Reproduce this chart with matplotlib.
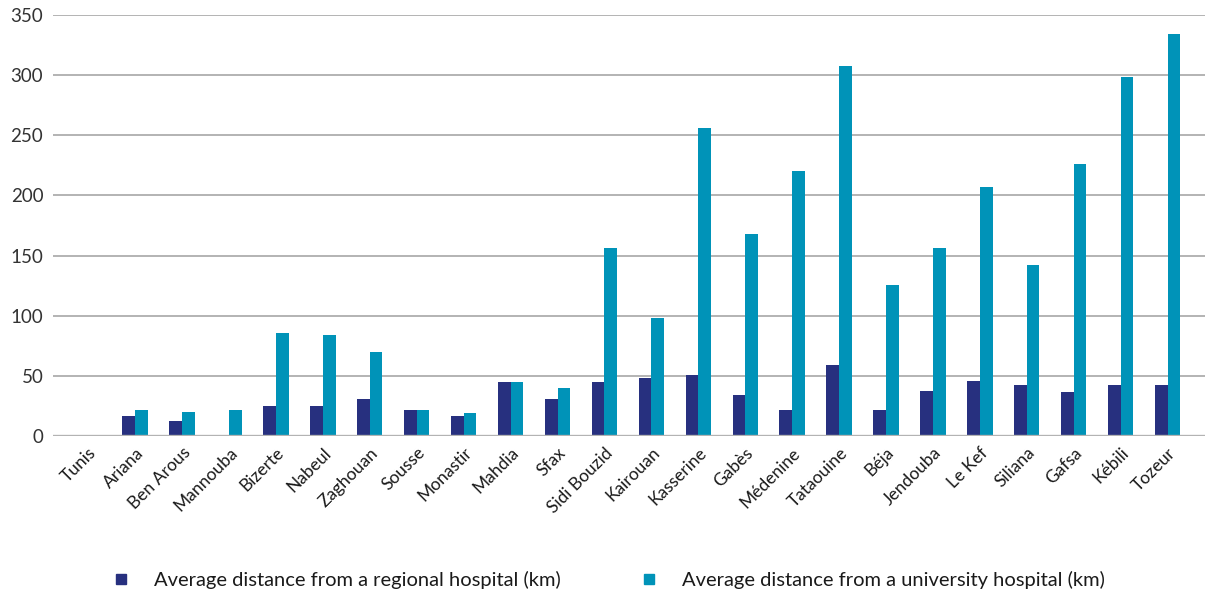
import matplotlib.pyplot as plt
import numpy as np
from matplotlib.lines import Line2D

plt.rcParams['font.family'] = ['Lato', 'DejaVu Sans']

regions = ['Tunis', 'Ariana', 'Ben Arous', 'Mannouba', 'Bizerte', 'Nabeul',
           'Zaghouan', 'Sousse', 'Monastir', 'Mahdia', 'Sfax', 'Sidi Bouzid',
           'Kairouan', 'Kasserine', 'Gabès', 'Médenine', 'Tataouine', 'Béja',
           'Jendouba', 'Le Kef', 'Siliana', 'Gafsa', 'Kébili', 'Tozeur']
regional = [0, 16.5, 13, 0, 25, 25, 31, 22, 16.5, 45, 31, 45,
            48, 51, 34, 22, 59, 22, 38, 46, 43, 37, 43, 43]
university = [0, 22, 20, 22, 86, 84, 70, 22, 19, 45, 40, 156,
              98, 256, 168, 220, 307, 126, 156, 207, 142, 226, 298, 334]
labels = ['Average distance from a regional hospital (km)',
          'Average distance from a university hospital (km)']
colors = ['#27307F', '#0093B8']
yticks = [0, 50, 100, 150, 200, 250, 300, 350]

fig = plt.figure(figsize=(12.1, 5.95), dpi=100)
ax = fig.add_axes([0.0438, 0.2667, 0.9522, 0.7086])

x = np.arange(len(regions))
w = 0.27
ax.bar(x - w / 2, regional, w, color=colors[0], zorder=3)
ax.bar(x + w / 2, university, w, color=colors[1], zorder=3)

ax.set_xlim(-0.75, 23.8)
ax.set_ylim(0, 350)
ax.set_yticks(yticks)
ax.yaxis.grid(True, color='#B3B3B3', linewidth=1.4, zorder=0)
ax.axhline(0, color='#B3B3B3', linewidth=2.4, zorder=4)
for s in ax.spines.values():
    s.set_visible(False)
ax.tick_params(axis='both', length=0, colors='#333333')
ax.tick_params(axis='y', pad=7, labelsize=13.5)
ax.tick_params(axis='x', pad=6, labelsize=12.5)
ax.set_xticks(x)
ax.set_xticklabels(regions, rotation=45, ha='right', rotation_mode='anchor',
                   color='#1a1a1a')

# legend
handles = [Line2D([], [], marker='s', linestyle='none', markersize=7.5,
                  color=c) for c in colors]
fig.legend(handles, labels, loc='center', bbox_to_anchor=(0.503, 0.025),
           ncol=2, frameon=False, fontsize=14.5, handlelength=0.8,
           handletextpad=1.24, columnspacing=4.0, labelcolor='#1a1a1a')

plt.savefig('out.png', dpi=100)
